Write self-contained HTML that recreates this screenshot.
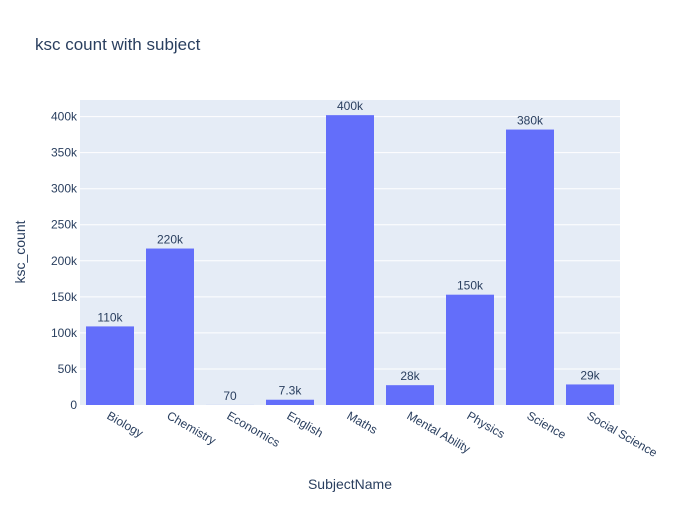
<!DOCTYPE html>
<html><head><meta charset="utf-8"><style>
body{margin:0;background:#fff;}
svg text{font-family:"Liberation Sans",sans-serif;fill:#2a3f5f;}
</style></head><body>
<svg id="chart" width="700" height="500" xmlns="http://www.w3.org/2000/svg">
<rect width="700" height="500" fill="#fff"/>
<text x="35" y="50" font-size="17">ksc count with subject</text>
<rect x="80" y="100" width="540" height="305" fill="#e5ecf6"/>
<g id="grid"></g><g id="bars"></g><g id="labels"></g>
<text x="350" y="489" font-size="14" text-anchor="middle">SubjectName</text>
<text x="25" y="252" font-size="14" text-anchor="middle" transform="rotate(-90 25 252)">ksc_count</text>
</svg>
<script>
const categories=["Biology","Chemistry","Economics","English","Maths","Mental Ability","Physics","Science","Social Science"];
const values=[109000,217000,70,7300,402000,27500,153000,382000,28500];
const valueLabels=["110k","220k","70","7.3k","400k","28k","150k","380k","29k"];
const yTicks=[0,50000,100000,150000,200000,250000,300000,350000,400000];
const yTickLabels=["0","50k","100k","150k","200k","250k","300k","350k","400k"];
const NS="http://www.w3.org/2000/svg";
const x0=80,pw=540,y0=405,yMax=423000,ph=305;
const y=v=>y0-v/yMax*ph;
const band=pw/categories.length;
const xc=i=>x0+band*(i+0.5);
const grid=document.getElementById('grid'),bars=document.getElementById('bars'),labels=document.getElementById('labels');
function mk(tag,attrs,parent,txt){const e=document.createElementNS(NS,tag);for(const k in attrs)e.setAttribute(k,attrs[k]);if(txt!==undefined)e.textContent=txt;parent.appendChild(e);return e;}
yTicks.forEach((t,i)=>{
  if(t>0){const g=mk('line',{x1:x0,x2:x0+pw,y1:y(t),y2:y(t),stroke:'#fff','stroke-width':1},grid);
  
  }
  const l=mk('text',{x:x0-3,y:y(t)+4,'font-size':12,'text-anchor':'end'},labels,yTickLabels[i]);
  
  
});
categories.forEach((c,i)=>{
  const bw=band*0.8,top=y(values[i]);
  const b=mk('rect',{x:xc(i)-bw/2,y:top,width:bw,height:y0-top,fill:'#636efa'},bars);
  
  
  const v=mk('text',{x:xc(i),y:top-5,'font-size':12,'text-anchor':'middle'},labels,valueLabels[i]);
  
  
  const tx=xc(i)-4,ty=y0+13;
  const t=mk('text',{x:tx,y:ty,'font-size':12,transform:`rotate(30 ${tx} ${ty})`},labels,c);
  
  
});
</script>
</body></html>
